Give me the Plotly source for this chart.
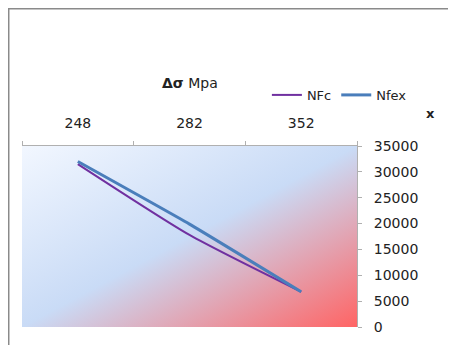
import plotly.graph_objects as go

categories = ["248", "282", "352"]
nfc = [31500, 17800, 6800]
nfex = [32000, 19900, 6800]
y_ticks = [0, 5000, 10000, 15000, 20000, 25000, 30000, 35000]
y_tick_labels = ["0", "5000", "10000", "15000", "20000", "25000", "30000", "35000"]

FONT = "DejaVu Sans"

svg = ("data:image/svg+xml;utf8,<svg xmlns='http://www.w3.org/2000/svg' width='335' height='181' "
       "preserveAspectRatio='none' viewBox='0 0 335 181'><defs><linearGradient id='g' x1='0' y1='0' x2='1' y2='1'>"
       "<stop offset='0' stop-color='%23f2f7ff'/><stop offset='0.5' stop-color='%23c9dbf6'/>"
       "<stop offset='1' stop-color='%23ff6464'/></linearGradient></defs>"
       "<rect width='335' height='181' fill='url(%23g)'/></svg>")

fig = go.Figure()
fig.add_trace(go.Scatter(x=categories, y=nfc, name="NFc", mode="lines",
                         line=dict(color="#7030a0", width=2, shape="spline", smoothing=0.6)))
fig.add_trace(go.Scatter(x=categories, y=nfex, name="Nfex", mode="lines",
                         line=dict(color="#4a7ebb", width=3, shape="spline", smoothing=0.4)))

fig.update_layout(
    width=448, height=337,
    margin=dict(l=14, r=99, t=138, b=18, autoexpand=False),
    paper_bgcolor="white", plot_bgcolor="rgba(0,0,0,0)",
    font=dict(family=FONT, size=12, color="#222"),
    showlegend=True,
    legend=dict(orientation="h", x=0.731, y=1.282, xanchor="left", yanchor="middle",
                font=dict(family=FONT, size=13, color="#222"), bgcolor="rgba(0,0,0,0)",
                itemwidth=30, tracegroupgap=0),
    images=[dict(source=svg, xref="paper", yref="paper", x=0, y=1, sizex=1, sizey=1,
                 sizing="stretch", layer="below", xanchor="left", yanchor="top")],
    xaxis=dict(type="category", side="top", range=[-0.5, 2.5], showgrid=False, showline=True,
               linecolor="#b0b0b0", linewidth=1, ticks="outside", ticklen=4, tickcolor="#b0b0b0",
               tickson="boundaries", ticklabelstandoff=11, automargin=False,
               tickfont=dict(family=FONT, size=14, color="#222"), zeroline=False),
    yaxis=dict(side="right", range=[0, 35000], tickvals=y_ticks, ticktext=y_tick_labels,
               showgrid=False, showline=True, automargin=False,
               linecolor="#b0b0b0", linewidth=1, ticks="outside", ticklen=4, tickcolor="#b0b0b0",
               ticklabelstandoff=9,
               tickfont=dict(family=FONT, size=14, color="#222"), zeroline=False),
    annotations=[
        dict(text="<b>Δσ</b> Mpa", xref="paper", yref="paper", x=0.5015, y=1.348,
             xanchor="center", yanchor="middle",
             showarrow=False, font=dict(family=FONT, size=14, color="#222")),
        dict(text="<b>x</b>", xref="paper", yref="paper", x=1.218, y=1.182,
             xanchor="center", yanchor="middle",
             showarrow=False, font=dict(family=FONT, size=13, color="#222")),
    ],
    shapes=[dict(type="rect", xref="paper", yref="paper", x0=-0.0396, y0=-0.2, x1=1.4, y1=1.758,
                 line=dict(color="#8a8a8a", width=1.5), fillcolor="rgba(0,0,0,0)", layer="below")],
)

fig.write_html("out.html")
